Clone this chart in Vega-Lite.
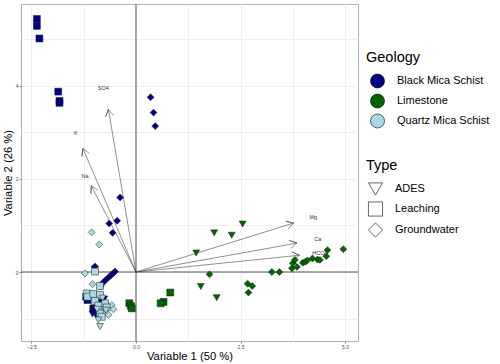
{
  "$schema": "https://vega.github.io/schema/vega-lite/v6.json",
  "width": 337,
  "height": 337,
  "autosize": "none",
  "padding": {"left": 21, "top": 4, "right": 142, "bottom": 23},
  "background": "white",
  "config": {
    "font": "Liberation Sans",
    "view": {"stroke": "#b3b3b3", "strokeWidth": 1},
    "axis": {
      "domain": false,
      "gridColor": "#ebebeb",
      "gridWidth": 0.8,
      "tickSize": 2,
      "tickWidth": 0.6,
      "labelFontSize": 5,
      "labelColor": "#4d4d4d",
      "labelPadding": 1,
      "titleFont": "Liberation Sans",
      "titleFontSize": 11.25,
      "titleFontWeight": "normal",
      "titleColor": "#000000"
    },
    "legend": {
      "titleFont": "Liberation Sans",
      "labelFont": "Liberation Sans",
      "titleFontSize": 14.5,
      "titleFontWeight": "normal",
      "titleColor": "#000000",
      "labelFontSize": 11,
      "labelColor": "#000000"
    }
  },
  "datasets": {
    "zero": [{"v": 0}],
    "pts": [
      {"x": -2.37, "y": 5.43, "geology": "Black Mica Schist", "type": "Leaching"},
      {"x": -2.37, "y": 5.28, "geology": "Black Mica Schist", "type": "Leaching"},
      {"x": -2.31, "y": 5.01, "geology": "Black Mica Schist", "type": "Leaching"},
      {"x": -1.86, "y": 3.87, "geology": "Black Mica Schist", "type": "Leaching"},
      {"x": -1.83, "y": 3.67, "geology": "Black Mica Schist", "type": "Leaching"},
      {"x": -1.83, "y": 3.63, "geology": "Black Mica Schist", "type": "Leaching"},
      {"x": -1.19, "y": -0.53, "geology": "Black Mica Schist", "type": "Leaching"},
      {"x": -1.16, "y": -0.60, "geology": "Black Mica Schist", "type": "Leaching"},
      {"x": -1.02, "y": -0.78, "geology": "Black Mica Schist", "type": "Leaching"},
      {"x": 0.35, "y": 3.75, "geology": "Black Mica Schist", "type": "Groundwater"},
      {"x": 0.42, "y": 3.42, "geology": "Black Mica Schist", "type": "Groundwater"},
      {"x": 0.46, "y": 3.13, "geology": "Black Mica Schist", "type": "Groundwater"},
      {"x": -0.38, "y": 1.60, "geology": "Black Mica Schist", "type": "Groundwater"},
      {"x": -0.45, "y": 1.10, "geology": "Black Mica Schist", "type": "Groundwater"},
      {"x": -0.64, "y": 1.04, "geology": "Black Mica Schist", "type": "Groundwater"},
      {"x": -0.56, "y": 0.84, "geology": "Black Mica Schist", "type": "Groundwater"},
      {"x": -0.98, "y": 0.12, "geology": "Black Mica Schist", "type": "Groundwater"},
      {"x": -0.50, "y": 0.01, "geology": "Black Mica Schist", "type": "Groundwater"},
      {"x": -0.55, "y": -0.03, "geology": "Black Mica Schist", "type": "Groundwater"},
      {"x": -0.60, "y": -0.07, "geology": "Black Mica Schist", "type": "Groundwater"},
      {"x": -0.65, "y": -0.11, "geology": "Black Mica Schist", "type": "Groundwater"},
      {"x": -0.71, "y": -0.16, "geology": "Black Mica Schist", "type": "Groundwater"},
      {"x": -0.78, "y": -0.22, "geology": "Black Mica Schist", "type": "Groundwater"},
      {"x": -0.84, "y": -0.30, "geology": "Black Mica Schist", "type": "Groundwater"},
      {"x": -0.99, "y": 0.06, "geology": "Black Mica Schist", "type": "ADES"},
      {"x": -0.82, "y": -0.30, "geology": "Black Mica Schist", "type": "ADES"},
      {"x": -0.83, "y": -0.65, "geology": "Black Mica Schist", "type": "ADES"},
      {"x": -0.76, "y": -0.58, "geology": "Black Mica Schist", "type": "ADES"},
      {"x": -1.02, "y": -0.83, "geology": "Black Mica Schist", "type": "ADES"},
      {"x": -0.95, "y": -0.92, "geology": "Black Mica Schist", "type": "ADES"},
      {"x": -0.92, "y": -0.98, "geology": "Black Mica Schist", "type": "ADES"},
      {"x": -1.04, "y": -0.90, "geology": "Black Mica Schist", "type": "ADES"},
      {"x": -1.06, "y": 0.85, "geology": "Quartz Mica Schist", "type": "Groundwater"},
      {"x": -0.88, "y": 0.59, "geology": "Quartz Mica Schist", "type": "Groundwater"},
      {"x": -1.22, "y": -0.03, "geology": "Quartz Mica Schist", "type": "Groundwater"},
      {"x": -1.04, "y": -0.26, "geology": "Quartz Mica Schist", "type": "Groundwater"},
      {"x": -0.58, "y": -0.71, "geology": "Quartz Mica Schist", "type": "Groundwater"},
      {"x": -0.54, "y": -0.80, "geology": "Quartz Mica Schist", "type": "Groundwater"},
      {"x": -0.78, "y": -0.85, "geology": "Quartz Mica Schist", "type": "Groundwater"},
      {"x": -0.66, "y": -0.92, "geology": "Quartz Mica Schist", "type": "Groundwater"},
      {"x": -0.98, "y": 0.01, "geology": "Quartz Mica Schist", "type": "Leaching"},
      {"x": -0.86, "y": -0.30, "geology": "Quartz Mica Schist", "type": "Leaching"},
      {"x": -1.18, "y": -0.46, "geology": "Quartz Mica Schist", "type": "Leaching"},
      {"x": -1.16, "y": -0.53, "geology": "Quartz Mica Schist", "type": "Leaching"},
      {"x": -1.02, "y": -0.47, "geology": "Quartz Mica Schist", "type": "Leaching"},
      {"x": -0.86, "y": -0.49, "geology": "Quartz Mica Schist", "type": "Leaching"},
      {"x": -0.98, "y": -0.62, "geology": "Quartz Mica Schist", "type": "Leaching"},
      {"x": -0.74, "y": -0.67, "geology": "Quartz Mica Schist", "type": "Leaching"},
      {"x": -0.70, "y": -0.76, "geology": "Quartz Mica Schist", "type": "Leaching"},
      {"x": -0.86, "y": -0.89, "geology": "Quartz Mica Schist", "type": "Leaching"},
      {"x": -0.82, "y": -0.96, "geology": "Quartz Mica Schist", "type": "Leaching"},
      {"x": -0.90, "y": -0.72, "geology": "Quartz Mica Schist", "type": "Leaching"},
      {"x": -0.86, "y": -1.17, "geology": "Quartz Mica Schist", "type": "ADES"},
      {"x": -0.90, "y": -1.03, "geology": "Quartz Mica Schist", "type": "ADES"},
      {"x": -0.72, "y": -0.82, "geology": "Quartz Mica Schist", "type": "ADES"},
      {"x": -0.93, "y": -0.80, "geology": "Quartz Mica Schist", "type": "ADES"},
      {"x": -0.80, "y": -0.56, "geology": "Quartz Mica Schist", "type": "ADES"},
      {"x": -0.16, "y": -0.67, "geology": "Limestone", "type": "Leaching"},
      {"x": -0.12, "y": -0.73, "geology": "Limestone", "type": "Leaching"},
      {"x": -0.10, "y": -0.78, "geology": "Limestone", "type": "Leaching"},
      {"x": 0.82, "y": -0.44, "geology": "Limestone", "type": "Leaching"},
      {"x": 0.66, "y": -0.64, "geology": "Limestone", "type": "Leaching"},
      {"x": 0.59, "y": -0.67, "geology": "Limestone", "type": "Leaching"},
      {"x": 1.44, "y": 0.41, "geology": "Limestone", "type": "ADES"},
      {"x": 1.87, "y": 0.84, "geology": "Limestone", "type": "ADES"},
      {"x": 2.29, "y": 0.79, "geology": "Limestone", "type": "ADES"},
      {"x": 2.55, "y": 1.03, "geology": "Limestone", "type": "ADES"},
      {"x": 1.55, "y": -0.31, "geology": "Limestone", "type": "ADES"},
      {"x": 1.93, "y": -0.55, "geology": "Limestone", "type": "ADES"},
      {"x": 1.76, "y": -0.05, "geology": "Limestone", "type": "Groundwater"},
      {"x": 2.67, "y": -0.25, "geology": "Limestone", "type": "Groundwater"},
      {"x": 2.78, "y": -0.30, "geology": "Limestone", "type": "Groundwater"},
      {"x": 2.69, "y": -0.44, "geology": "Limestone", "type": "Groundwater"},
      {"x": 3.25, "y": 0.00, "geology": "Limestone", "type": "Groundwater"},
      {"x": 3.43, "y": 0.00, "geology": "Limestone", "type": "Groundwater"},
      {"x": 3.73, "y": 0.08, "geology": "Limestone", "type": "Groundwater"},
      {"x": 3.75, "y": 0.19, "geology": "Limestone", "type": "Groundwater"},
      {"x": 3.80, "y": 0.26, "geology": "Limestone", "type": "Groundwater"},
      {"x": 3.85, "y": 0.11, "geology": "Limestone", "type": "Groundwater"},
      {"x": 3.99, "y": 0.20, "geology": "Limestone", "type": "Groundwater"},
      {"x": 4.05, "y": 0.22, "geology": "Limestone", "type": "Groundwater"},
      {"x": 4.10, "y": 0.25, "geology": "Limestone", "type": "Groundwater"},
      {"x": 4.22, "y": 0.29, "geology": "Limestone", "type": "Groundwater"},
      {"x": 4.34, "y": 0.27, "geology": "Limestone", "type": "Groundwater"},
      {"x": 4.40, "y": 0.26, "geology": "Limestone", "type": "Groundwater"},
      {"x": 4.55, "y": 0.34, "geology": "Limestone", "type": "Groundwater"},
      {"x": 4.58, "y": 0.47, "geology": "Limestone", "type": "Groundwater"},
      {"x": 4.96, "y": 0.49, "geology": "Limestone", "type": "Groundwater"}
    ],
    "vec": [
      {"var": "SO4", "ord": 0, "x": 0, "y": 0},
      {"var": "SO4", "ord": 1, "x": -0.66, "y": 3.49},
      {"var": "SO4", "ord": 2, "x": -0.727, "y": 3.329},
      {"var": "SO4", "ord": 3, "x": -0.66, "y": 3.49},
      {"var": "SO4", "ord": 4, "x": -0.538, "y": 3.358},
      {"var": "K", "ord": 0, "x": 0, "y": 0},
      {"var": "K", "ord": 1, "x": -1.27, "y": 2.65},
      {"var": "K", "ord": 2, "x": -1.293, "y": 2.479},
      {"var": "K", "ord": 3, "x": -1.27, "y": 2.65},
      {"var": "K", "ord": 4, "x": -1.117, "y": 2.547},
      {"var": "Na", "ord": 0, "x": 0, "y": 0},
      {"var": "Na", "ord": 1, "x": -1.07, "y": 1.85},
      {"var": "Na", "ord": 2, "x": -1.079, "y": 1.679},
      {"var": "Na", "ord": 3, "x": -1.07, "y": 1.85},
      {"var": "Na", "ord": 4, "x": -0.909, "y": 1.758},
      {"var": "Mg", "ord": 0, "x": 0, "y": 0},
      {"var": "Mg", "ord": 1, "x": 3.77, "y": 1.05},
      {"var": "Mg", "ord": 2, "x": 3.583, "y": 1.088},
      {"var": "Mg", "ord": 3, "x": 3.77, "y": 1.05},
      {"var": "Mg", "ord": 4, "x": 3.64, "y": 0.924},
      {"var": "Ca", "ord": 0, "x": 0, "y": 0},
      {"var": "Ca", "ord": 1, "x": 3.85, "y": 0.62},
      {"var": "Ca", "ord": 2, "x": 3.67, "y": 0.678},
      {"var": "Ca", "ord": 3, "x": 3.85, "y": 0.62},
      {"var": "Ca", "ord": 4, "x": 3.704, "y": 0.509},
      {"var": "HCO3", "ord": 0, "x": 0, "y": 0},
      {"var": "HCO3", "ord": 1, "x": 3.91, "y": 0.36},
      {"var": "HCO3", "ord": 2, "x": 3.735, "y": 0.43},
      {"var": "HCO3", "ord": 3, "x": 3.91, "y": 0.36},
      {"var": "HCO3", "ord": 4, "x": 3.755, "y": 0.26}
    ],
    "labs": [
      {"var": "SO4", "x": -0.78, "y": 3.94},
      {"var": "K", "x": -1.44, "y": 2.99},
      {"var": "Na", "x": -1.22, "y": 2.07},
      {"var": "Mg", "x": 4.24, "y": 1.17},
      {"var": "Ca", "x": 4.35, "y": 0.70},
      {"var": "HCO3", "x": 4.40, "y": 0.40}
    ]
  },
  "layer": [
    {
      "data": {"name": "pts"},
      "mark": {"type": "point", "opacity": 0},
      "encoding": {
        "x": {
          "field": "x", "type": "quantitative",
          "scale": {"domain": [-2.75, 5.31], "nice": false, "zero": false},
          "axis": {
            "title": "Variable 1 (50 %)",
            "values": [-2.5, -1.25, 0, 1.25, 2.5, 3.75, 5],
            "labelExpr": "datum.value % 2.5 === 0 ? format(datum.value, '.1f') : ''",
            "tickColor": {"condition": {"test": "datum.value % 2.5 !== 0", "value": "transparent"}, "value": "#333333"},
            "titlePadding": 1
          }
        },
        "y": {
          "field": "y", "type": "quantitative",
          "scale": {"domain": [-1.48, 5.75], "nice": false, "zero": false},
          "axis": {
            "title": "Variable 2 (26 %)",
            "values": [-1, 0, 1, 2, 3, 4, 5],
            "labelExpr": "datum.value % 2 === 0 ? format(datum.value, 'd') : ''",
            "tickColor": {"condition": {"test": "datum.value % 2 !== 0", "value": "transparent"}, "value": "#333333"},
            "titlePadding": 2
          }
        }
      }
    },
    {
      "data": {"name": "zero"},
      "mark": {"type": "rule", "color": "#555555", "strokeWidth": 1},
      "encoding": {
        "x": {"field": "v", "type": "quantitative"}
      }
    },
    {
      "data": {"name": "zero"},
      "mark": {"type": "rule", "color": "#555555", "strokeWidth": 1},
      "encoding": {
        "y": {"field": "v", "type": "quantitative"}
      }
    },
    {
      "data": {"name": "vec"},
      "mark": {"type": "line", "color": "#444444", "strokeWidth": 0.6, "strokeJoin": "round"},
      "encoding": {
        "x": {"field": "x", "type": "quantitative"},
        "y": {"field": "y", "type": "quantitative"},
        "detail": {"field": "var"},
        "order": {"field": "ord", "type": "quantitative"}
      }
    },
    {
      "data": {"name": "labs"},
      "mark": {"type": "text", "fontSize": 5.5, "fill": "#333333", "font": "Liberation Sans"},
      "encoding": {
        "x": {"field": "x", "type": "quantitative"},
        "y": {"field": "y", "type": "quantitative"},
        "text": {"field": "var"}
      }
    },
    {
      "data": {"name": "pts"},
      "mark": {"type": "point", "filled": true, "size": 48, "stroke": "#1a1a1a", "strokeWidth": 0.5, "opacity": 1},
      "encoding": {
        "x": {"field": "x", "type": "quantitative"},
        "y": {"field": "y", "type": "quantitative"},
        "fill": {
          "field": "geology", "type": "nominal",
          "scale": {"domain": ["Black Mica Schist", "Limestone", "Quartz Mica Schist"], "range": ["#000080", "#006400", "#ADD8E6"]},
          "legend": {
            "title": "Geology", "orient": "none", "legendX": 345, "legendY": 47,
            "symbolType": "circle", "symbolSize": 196, "symbolStrokeColor": "#000000", "symbolStrokeWidth": 0.6,
            "rowPadding": 3, "titlePadding": 8, "labelOffset": 12, "symbolOffset": 4
          }
        },
        "shape": {
          "field": "type", "type": "nominal",
          "scale": {"domain": ["ADES", "Leaching", "Groundwater"], "range": ["triangle-down", "square", "diamond"]},
          "legend": {
            "title": "Type", "orient": "none", "legendX": 345, "legendY": 155,
            "symbolSize": 200, "symbolStrokeColor": "#000000", "symbolFillColor": "#ffffff", "symbolStrokeWidth": 0.6,
            "rowPadding": 4, "titlePadding": 8, "labelOffset": 12, "symbolOffset": 2,
            "encode": {"symbols": {"update": {"fill": {"value": "#ffffff"}, "stroke": {"value": "#000000"}, "strokeWidth": {"value": 0.6}}}}
          }
        }
      }
    }
  ]
}
